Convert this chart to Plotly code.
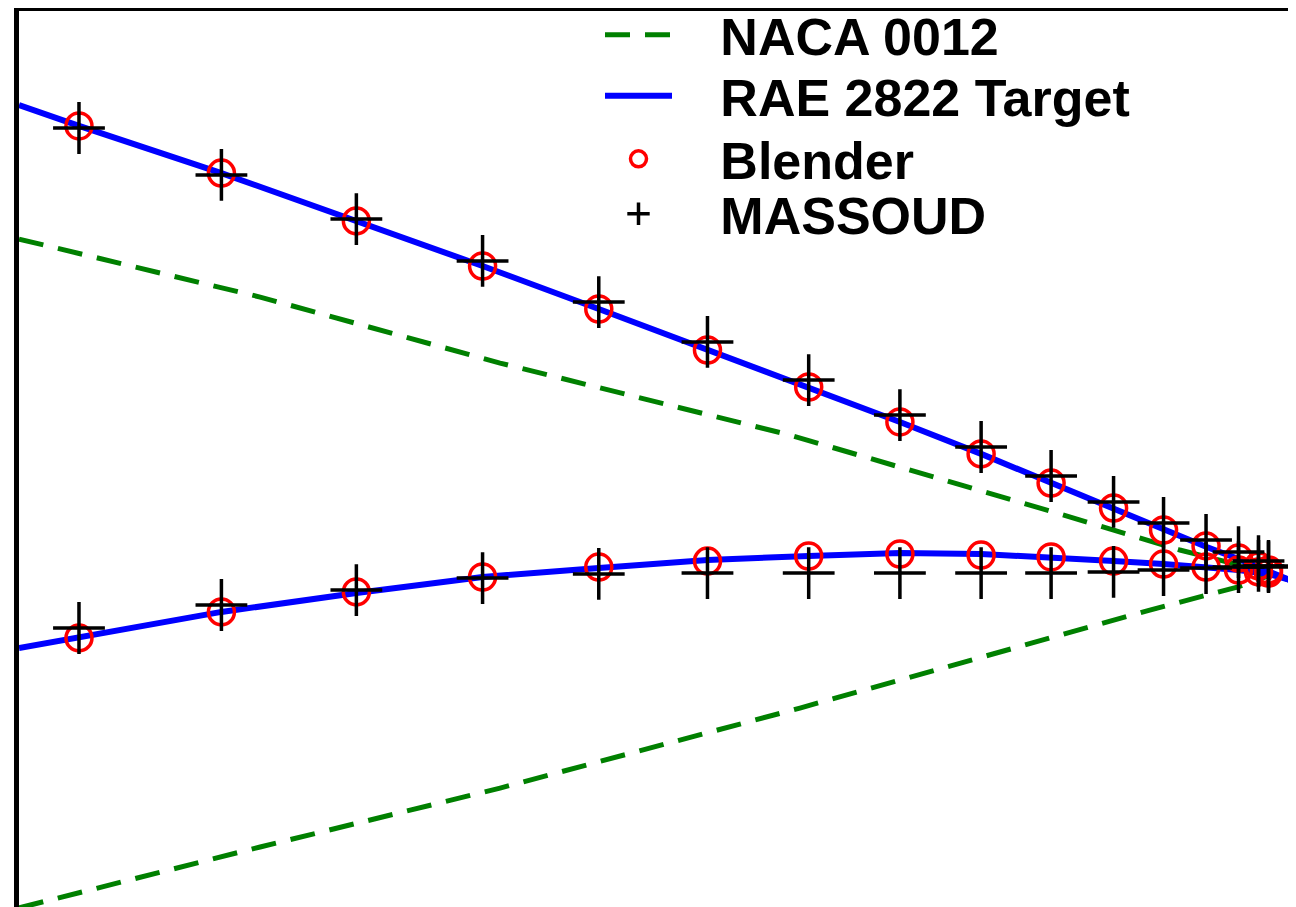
import plotly.graph_objects as go

# ---------------- data (chord-normalised coordinates) ----------------
# NACA 0012 reference section (dashed green)
naca_upper_x = [0.9000, 0.9193, 0.9385, 0.9617, 0.9825, 0.9929, 1.0000]
naca_upper_y = [0.01454, 0.01202, 0.00915, 0.00602, 0.00272, 0.00102, 0.00005]
naca_lower_x = [0.9000, 0.9193, 0.9385, 0.9625, 0.9828, 0.9905, 0.9975, 1.0000]
naca_lower_y = [-0.01454, -0.01189, -0.00933, -0.00585, -0.00276, -0.00159, -0.00059, -0.00010]

# RAE 2822 target section (solid blue)
rae_upper_x = [0.9000, 0.9048, 0.9162, 0.9270, 0.9371, 0.9464, 0.9551, 0.9632, 0.9705,
               0.9770, 0.9826, 0.9876, 0.9916, 0.9950, 0.9976, 1.0000, 1.0017]
rae_upper_y = [0.02037, 0.01946, 0.01741, 0.01533, 0.01337, 0.01150, 0.00972, 0.00811, 0.00659,
               0.00520, 0.00393, 0.00285, 0.00189, 0.00116, 0.00063, 0.00011, -0.00028]
rae_lower_x = [0.9000, 0.9048, 0.9162, 0.9270, 0.9371, 0.9464, 0.9551, 0.9632, 0.9705,
               0.9770, 0.9826, 0.9876, 0.9916, 0.9950, 0.9976, 1.0000, 1.0017]
rae_lower_y = [-0.00324, -0.00276, -0.00167, -0.00085, -0.00015, 0.00024, 0.00059, 0.00076,
               0.00089, 0.00085, 0.00072, 0.00054, 0.00041, 0.00028, 0.00015, -0.00002, -0.00028]

# surface sample stations (cosine spaced)
station_x = [0.9048, 0.9162, 0.9270, 0.9371, 0.9464, 0.9551, 0.9632, 0.9705,
             0.9770, 0.9826, 0.9876, 0.9916, 0.9950, 0.9976, 0.9992, 1.0000]

# Blender result (red circles)
blender_upper_y = [0.01946, 0.01741, 0.01533, 0.01337, 0.01150, 0.00972, 0.00811, 0.00659,
                   0.00520, 0.00393, 0.00285, 0.00189, 0.00120, 0.00067, 0.00033, 0.00015]
blender_lower_y = [-0.00280, -0.00167, -0.00080, -0.00015, 0.00028, 0.00054, 0.00076, 0.00085,
                   0.00080, 0.00072, 0.00054, 0.00041, 0.00028, 0.00015, 0.00007, 0.00002]

# MASSOUD result (black crosses)
massoud_upper_y = [0.01937, 0.01733, 0.01541, 0.01359, 0.01180, 0.01007, 0.00841, 0.00689,
                   0.00550, 0.00424, 0.00311, 0.00220, 0.00146, 0.00093, 0.00054, 0.00028]
massoud_lower_y = [-0.00237, -0.00137, -0.00072, -0.00020, -0.00002, 0.00002, 0.00002, 0.00002,
                   0.00002, 0.00002, 0.00007, 0.00015, 0.00024, 0.00028, 0.00033, 0.00033]

series_names = ["NACA 0012", "RAE 2822 Target", "Blender", "MASSOUD"]

x_range = [0.9, 1.0022]
y_range = [-0.0145, 0.024457]

# ---------------- figure ----------------
pad = "\u00a0\u00a0\u00a0"

fig = go.Figure()

fig.add_trace(go.Scatter(
    x=naca_upper_x + [None] + naca_lower_x,
    y=naca_upper_y + [None] + naca_lower_y,
    mode="lines", name=pad + series_names[0], legend="legend",
    line=dict(color="#008000", width=5, dash="25px,15px"),
    connectgaps=False,
))
fig.add_trace(go.Scatter(
    x=rae_upper_x + [None] + rae_lower_x,
    y=rae_upper_y + [None] + rae_lower_y,
    mode="lines", name=pad + series_names[1], legend="legend2",
    line=dict(color="#0000ff", width=6),
    connectgaps=False,
))
fig.add_trace(go.Scatter(
    x=station_x + station_x,
    y=blender_upper_y + blender_lower_y,
    mode="markers", name=pad + series_names[2], legend="legend3",
    marker=dict(symbol="circle-open", size=26, color="#ff0000",
                line=dict(color="#ff0000", width=3.5)),
))
fig.add_trace(go.Scatter(
    x=station_x + station_x,
    y=massoud_upper_y + massoud_lower_y,
    mode="markers", name=pad + series_names[3], legend="legend4",
    marker=dict(symbol="cross-thin", size=37, color="#000000",
                line=dict(color="#000000", width=3.5)),
))

# page has an 8px body margin
BODY = 8
W, H = 1288, 899
ml, mr, mt, mb = 11, 0, 3, 0
plot_top = BODY + mt
plot_bottom = BODY + H - mb
plot_left = BODY + ml
plot_right = BODY + W - mr


def py_to_paper(py):
    return (plot_bottom - py) / (plot_bottom - plot_top)


def px_to_paper(px):
    return (px - plot_left) / (plot_right - plot_left)


legend_font = dict(family="Liberation Sans, Arial, sans-serif", size=52, color="black", weight="bold")
legend_common = dict(font=legend_font, bgcolor="rgba(0,0,0,0)", borderwidth=0,
                     xanchor="left", yanchor="middle", itemwidth=67,
                     x=px_to_paper(600))
row_py = [35, 96, 159, 214]

fig.update_layout(
    width=W, height=H,
    margin=dict(l=ml, r=mr, t=mt, b=mb, pad=0, autoexpand=False),
    paper_bgcolor="white", plot_bgcolor="white",
    showlegend=True,
    legend=dict(**legend_common, y=py_to_paper(row_py[0])),
    legend2=dict(**legend_common, y=py_to_paper(row_py[1])),
    legend3=dict(**legend_common, y=py_to_paper(row_py[2])),
    legend4=dict(**legend_common, y=py_to_paper(row_py[3])),
    xaxis=dict(range=x_range, side="top", showline=True, linecolor="black", linewidth=4.5,
               showgrid=False, zeroline=False, ticks="", showticklabels=False, automargin=False),
    yaxis=dict(range=y_range, showline=True, linecolor="black", linewidth=4.5,
               showgrid=False, zeroline=False, ticks="", showticklabels=False, automargin=False),
)

fig.write_html("out.html")
